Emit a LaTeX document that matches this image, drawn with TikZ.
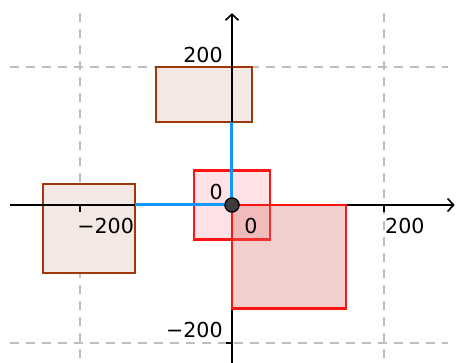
\documentclass[tikz,border=0pt]{standalone}
\usepackage{fontspec}
\setmainfont{DejaVu Sans}
\usetikzlibrary{arrows.meta}
\definecolor{grigio}{RGB}{190,190,190}
\definecolor{bordomarrone}{RGB}{160,55,10}
\definecolor{fondomarrone}{RGB}{244,232,228}
\definecolor{rosso}{RGB}{255,20,20}
\definecolor{rosachiaro}{RGB}{255,226,229}
\definecolor{rosascuro}{RGB}{216,108,102}
\definecolor{azzurro}{RGB}{20,150,255}
\definecolor{puntogrigio}{RGB}{60,60,60}

\begin{document}
\begin{tikzpicture}[x=0.38pt, y=0.345pt,
  griglia/.style={draw=grigio, line width=1pt, dash pattern=on 4.5pt off 3.5pt},
  asse/.style={line width=0.8pt, -{Straight Barb[length=3pt,width=6.5pt]}},
  tacca/.style={line width=0.8pt},
  etich/.style={inner sep=0pt, font=\fontsize{10.3}{12}\selectfont},
  marrone/.style={draw=bordomarrone, fill=fondomarrone, line width=1.1pt},
  blu/.style={draw=azzurro, line width=1.5pt},
  punto/.style={circle, draw=black, fill=puntogrigio, line width=0.6pt, minimum size=7pt, inner sep=0pt}]

\useasboundingbox (-305.26,-228.99) rectangle (294.74,297.10);

% griglia tratteggiata
\foreach \g in {-200,200} {
  \draw[griglia] (\g,278) -- (\g,-229);
  \draw[griglia] (-292,\g) -- (284,\g);
}

% rettangoli marroni
\draw[marrone] (-100,120) rectangle (26,200);
\draw[marrone] (-249,-99) rectangle (-128,30);

% assi e tacche
\coordinate (xsin) at (-292,0);
\coordinate (xdes) at (293,0);
\coordinate (ybas) at (0,-229);
\coordinate (yalt) at (0,278);
\draw[asse] (xsin) -- (xdes);
\draw[asse] (ybas) -- (yalt);
\foreach \g in {-200,200}
  \draw[tacca] (\g,0) -- (\g,-10);
\draw[tacca] (0,-200) -- (-8,-200);

\node[etich, anchor=north west] (lx1) at (-204,-18.8) {−200};
\node[etich, anchor=north west] (lx2) at (201,-18.8) {200};
\node[etich, anchor=south east] (ly1) at (-11.8,205.8) {200};
\node[etich, anchor=south east] (ly2) at (-11.8,-192.8) {−200};

% rettangoli rossi
\draw[draw=rosso, fill=rosachiaro, line width=1.2pt] (-50,-50) rectangle (50,50);
\draw[draw=rosso, fill=rosascuro, fill opacity=0.33, line width=1.2pt] (0,0) rectangle (150,-150);

\node[etich, anchor=south east] (zero1) at (-11.8,7.2) {0};
\node[etich, anchor=north west] (zero2) at (15.8,-18.8) {0};

% segmenti azzurri dall'origine
\coordinate (sup) at (0,120);
\coordinate (sin) at (-128,0);
\node[punto] (O) at (0,0) {};
\draw[blu] (O.center) -- (sup);
\draw[blu] (O.center) -- (sin);
\node[punto] at (O) {};

\end{tikzpicture}
\end{document}
